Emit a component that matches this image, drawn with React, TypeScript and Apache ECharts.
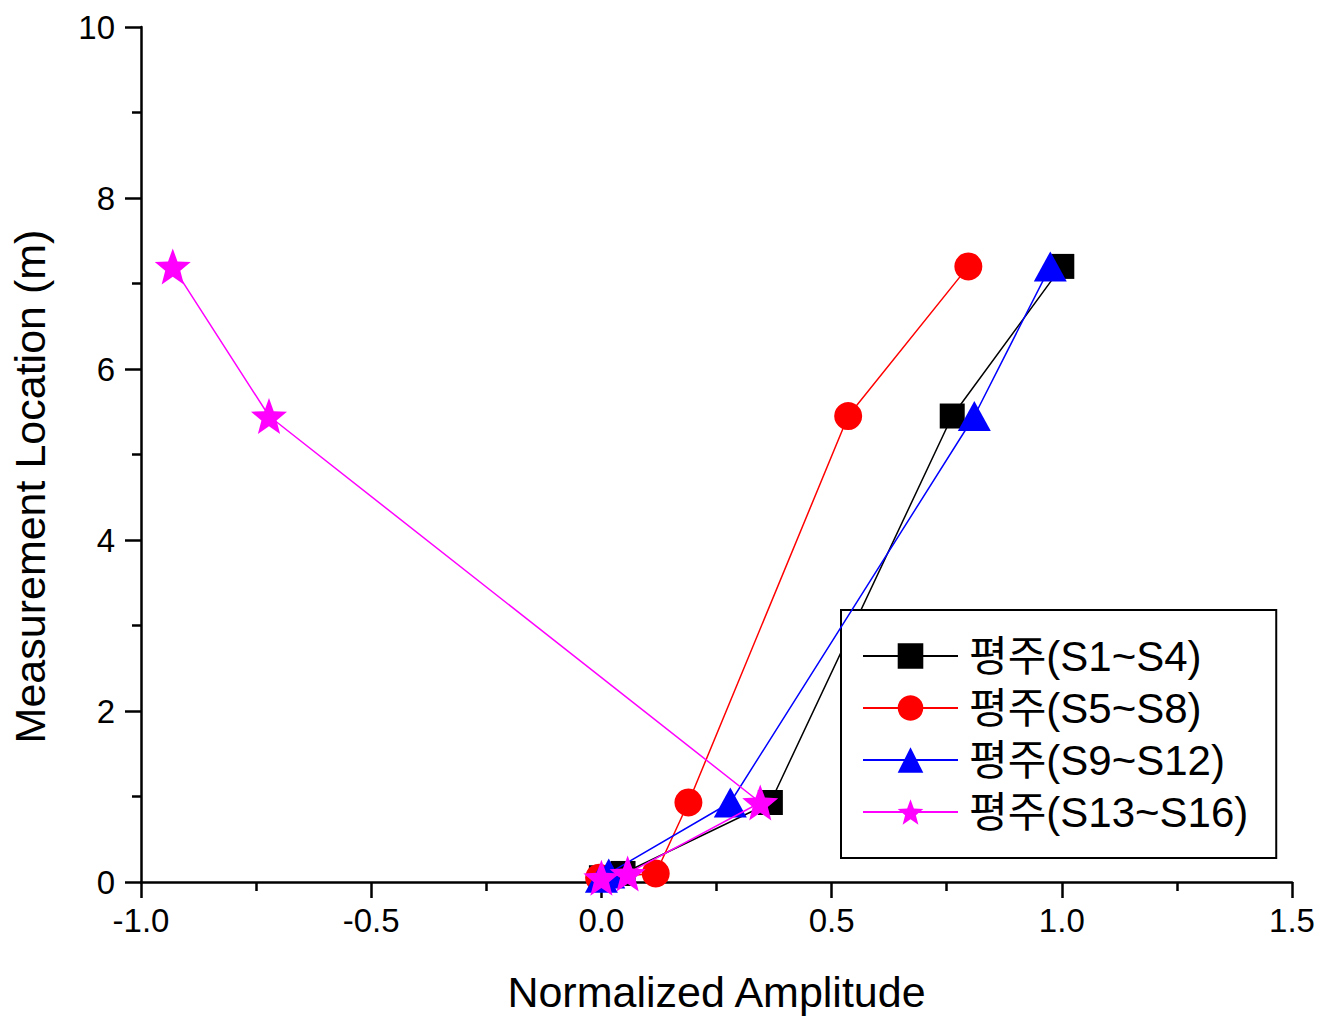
import React, { useEffect, useRef } from "react";
import * as echarts from "echarts";

const seriesNames = ["평주(S1~S4)", "평주(S5~S8)", "평주(S9~S12)", "평주(S13~S16)"];
const locations = [7.2, 5.45, 0.93, 0.1, 0.05];
const ampS1S4 = [1.0, 0.762, 0.367, 0.047, 0.0];
const ampS5S8 = [0.797, 0.536, 0.189, 0.118, -0.005];
const ampS9S12 = [0.975, 0.81, 0.28, 0.016, 0.0];
const ampS13S16 = [-0.931, -0.722, 0.345, 0.057, 0.0];
const xTicks = { min: -1.0, max: 1.5, interval: 0.5 };
const yTicks = { min: 0, max: 10, interval: 2 };

const FONT = "'Liberation Sans', Arial, 'Noto Sans CJK KR', sans-serif";
const STAR =
  "path://M50 0 L62.5 33 L97.6 34.5 L70 56.5 L79.4 90.5 L50 71 L20.6 90.5 L30 56.5 L2.4 34.5 L37.5 33 Z";

export default function App() {
  const ref = useRef<HTMLDivElement>(null);
  useEffect(() => {
    if (!ref.current) return;
    const chart = echarts.init(ref.current, null, { renderer: "svg" });
    const mk = (xs: number[]) => xs.map((x, i) => [x, locations[i]]);
    const styles = [
      { color: "#000000", symbol: "rect", size: 25 },
      { color: "#ff0000", symbol: "circle", size: 28 },
      { color: "#0000ff", symbol: "triangle", size: [33, 30] },
      { color: "#ff00ff", symbol: STAR, size: 36 },
    ];
    const datas = [ampS1S4, ampS5S8, ampS9S12, ampS13S16];
    chart.setOption({
      animation: false,
      backgroundColor: "#ffffff",
      textStyle: { fontFamily: FONT },
      grid: { left: 140, right: 34, top: 27, bottom: 138, containLabel: false },
      xAxis: {
        type: "value",
        min: xTicks.min,
        max: xTicks.max,
        interval: xTicks.interval,
        name: "Normalized Amplitude",
        nameLocation: "middle",
        nameGap: 88,
        nameTextStyle: { fontSize: 43, color: "#000", fontFamily: FONT },
        axisLine: { onZero: false, lineStyle: { color: "#000", width: 2.5 } },
        axisTick: { length: 16, lineStyle: { width: 2.5, color: "#000" } },
        minorTick: { show: true, splitNumber: 2, length: 9, lineStyle: { width: 2.5, color: "#000" } },
        splitLine: { show: false },
        axisLabel: {
          fontSize: 33,
          color: "#000",
          fontFamily: FONT,
          margin: 22,
          formatter: (v: number) => v.toFixed(1),
        },
      },
      yAxis: {
        type: "value",
        min: yTicks.min,
        max: yTicks.max,
        interval: yTicks.interval,
        name: "Measurement Location (m)",
        nameLocation: "middle",
        nameGap: 90,
        nameTextStyle: { fontSize: 43, color: "#000", fontFamily: FONT, padding: [0, 64, 0, 0] },
        axisLine: { onZero: false, lineStyle: { color: "#000", width: 2.5 } },
        axisTick: { length: 16, lineStyle: { width: 2.5, color: "#000" } },
        minorTick: { show: true, splitNumber: 2, length: 9, lineStyle: { width: 2.5, color: "#000" } },
        splitLine: { show: false },
        axisLabel: {
          fontSize: 33,
          color: "#000",
          fontFamily: FONT,
          margin: 26,
          formatter: (v: number) => String(v),
        },
      },
      legend: {
        orient: "vertical",
        left: 841,
        top: 610,
        backgroundColor: "#fff",
        borderColor: "#000",
        borderWidth: 2,
        borderRadius: 0,
        padding: [25, 28, 25, 21],
        itemWidth: 95,
        itemHeight: 32,
        itemGap: 10,
        textStyle: { fontSize: 42, lineHeight: 40, color: "#000", fontFamily: FONT, padding: [0, 0, 0, 6] },
        data: seriesNames,
      },
      series: datas.map((d, i) => ({
        name: seriesNames[i],
        type: "line",
        data: mk(d),
        symbol: styles[i].symbol,
        symbolSize: styles[i].size,
        itemStyle: { color: styles[i].color },
        lineStyle: { color: styles[i].color, width: 1.5 },
        z: 2 + i,
      })),
    });
    return () => chart.dispose();
  }, []);
  return (
    <div
      ref={ref}
      style={{ position: "fixed", left: 0, top: 0, width: 1326, height: 1020, background: "#fff" }}
    />
  );
}
